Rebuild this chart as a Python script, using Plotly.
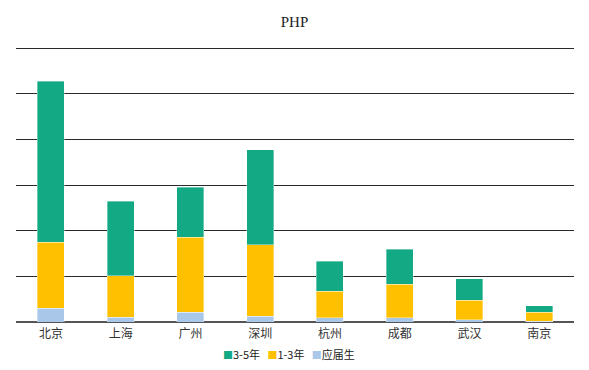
import plotly.graph_objects as go

cities = ["北京", "上海", "广州", "深圳", "杭州", "成都", "武汉", "南京"]
fresh = [6.0, 2.1, 4.3, 2.5, 1.8, 1.8, 1.0, 0.3]        # 应届生
mid = [29.0, 18.2, 32.9, 31.4, 11.7, 14.7, 8.5, 4.0]    # 1-3年
senior = [70.5, 32.6, 21.8, 41.7, 13.2, 15.5, 9.5, 2.8]  # 3-5年
grid_vals = [0, 20, 40, 60, 80, 100, 120]

series = [("应届生", fresh, "#A9C7E8"),
          ("1-3年", mid, "#FFC000"),
          ("3-5年", senior, "#14A985")]

font_cjk = "Noto Sans CJK SC, Microsoft YaHei, sans-serif"

fig = go.Figure()
for name, vals, color in series:
    fig.add_trace(go.Bar(
        x=cities, y=vals, name=name, showlegend=False,
        marker=dict(color=color, line=dict(color="rgba(255,255,255,0.6)", width=0.6)),
    ))

legend_text = "&nbsp;&nbsp;&nbsp;".join(
    f"<span style='color:{c};font-size:10px'>■</span>{n}" for n, _, c in reversed(series)
)

fig.update_layout(
    barmode="stack",
    bargap=0.61,
    width=589, height=370,
    margin=dict(l=16, r=15, t=46, b=48, autoexpand=False),
    paper_bgcolor="white", plot_bgcolor="white",
    title=dict(text="PHP", x=0.5, xanchor="center", y=0.94, yanchor="middle",
               font=dict(family="Liberation Serif, DejaVu Serif, serif", size=15, color="#222")),
    showlegend=False,
    annotations=[dict(text=legend_text, xref="paper", yref="paper", x=0.49, y=-0.115,
                      xanchor="center", yanchor="middle", showarrow=False,
                      font=dict(family=font_cjk, size=11, color="#222"))],
    xaxis=dict(showgrid=False, showline=False, ticks="", ticklabelstandoff=3,
               tickfont=dict(family=font_cjk, size=12, color="#333")),
    yaxis=dict(range=[0, 121], tickvals=grid_vals, showticklabels=False,
               showgrid=True, gridcolor="#2a2a2a", gridwidth=1,
               zeroline=True, zerolinecolor="#555", zerolinewidth=1.5),
)

fig.write_html("out.html")
